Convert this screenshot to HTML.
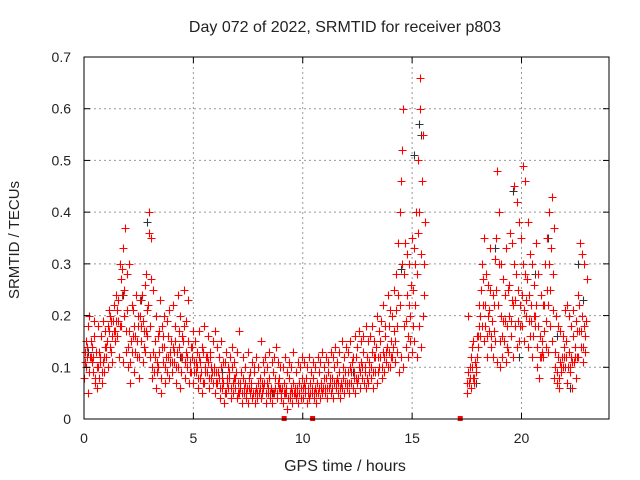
<!DOCTYPE html>
<html><head><meta charset="utf-8"><style>
body{margin:0;background:#fff}
svg{display:block;font-family:"Liberation Sans",sans-serif}
</style></head><body>
<svg id="chart" width="640" height="480" viewBox="0 0 640 480">
<rect width="640" height="480" fill="#fff"/>
<text x="345" y="32" font-size="16" text-anchor="middle" fill="#222">Day 072 of 2022, SRMTID for receiver p803</text>
<text x="345" y="471" font-size="16" text-anchor="middle" fill="#222">GPS time / hours</text>
<text transform="translate(19,240) rotate(-90)" font-size="15" text-anchor="middle" fill="#222">SRMTID / TECUs</text>
<g id="grid"></g>
<g id="dark"></g>
<g id="red"></g>
<g id="axes"></g>
</svg>
<script>
const xTicks=[0,5,10,15,20];
const yTicks=[0,0.1,0.2,0.3,0.4,0.5,0.6,0.7];
const yTickLabels=["0","0.1","0.2","0.3","0.4","0.5","0.6","0.7"];
const hours=[0,0.1,0.2,0.3,0.4,0.5,0.6,0.7,0.8,0.9,
1,1.1,1.2,1.3,1.4,1.5,1.6,1.7,1.8,1.9,
2,2.1,2.2,2.3,2.4,2.5,2.6,2.7,2.8,2.9,
3,3.1,3.2,3.3,3.4,3.5,3.6,3.7,3.8,3.9,
4,4.1,4.2,4.3,4.4,4.5,4.6,4.7,4.8,4.9,
5,5.1,5.2,5.3,5.4,5.5,5.6,5.7,5.8,5.9,
6,6.1,6.2,6.3,6.4,6.5,6.6,6.7,6.8,6.9,
7,7.1,7.2,7.3,7.4,7.5,7.6,7.7,7.8,7.9,
8,8.1,8.2,8.3,8.4,8.5,8.6,8.7,8.8,8.9,
9,9.1,9.2,9.3,9.4,9.5,9.6,9.7,9.8,9.9,
10,10.1,10.2,10.3,10.4,10.5,10.6,10.7,10.8,10.9,
11,11.1,11.2,11.3,11.4,11.5,11.6,11.7,11.8,11.9,
12,12.1,12.2,12.3,12.4,12.5,12.6,12.7,12.8,12.9,
13,13.1,13.2,13.3,13.4,13.5,13.6,13.7,13.8,13.9,
14,14.1,14.2,14.3,14.4,14.5,14.6,14.7,14.8,14.9,
15,15.1,15.2,15.3,15.4,15.5,
17.5,17.6,17.7,17.8,17.9,
18,18.1,18.2,18.3,18.4,18.5,18.6,18.7,18.8,18.9,
19,19.1,19.2,19.3,19.4,19.5,19.6,19.7,19.8,19.9,
20,20.1,20.2,20.3,20.4,20.5,20.6,20.7,20.8,20.9,
21,21.1,21.2,21.3,21.4,21.5,21.6,21.7,21.8,21.9,
22,22.1,22.2,22.3,22.4,22.5,22.6,22.7,22.8,22.9];
const srmtidA=[.15,.18,.12,.14,.19,.10,.13,.16,.11,.14,
.18,.20,.16,.22,.24,.19,.27,.33,.37,.28,
.30,.22,.18,.24,.20,.23,.19,.26,.21,.40,
.35,.25,.20,.16,.23,.18,.14,.19,.21,.15,
.22,.18,.24,.20,.16,.25,.19,.23,.14,.17,
.15,.13,.17,.14,.18,.12,.16,.13,.15,.17,
.14,.12,.15,.11,.13,.10,.12,.14,.11,.13,
.17,.09,.12,.10,.13,.09,.11,.10,.12,.10,
.15,.11,.12,.10,.13,.11,.12,.14,.11,.10,
.10,.12,.09,.11,.10,.13,.09,.11,.10,.12,
.11,.10,.12,.09,.11,.10,.12,.11,.13,.10,
.12,.11,.13,.12,.14,.11,.13,.15,.12,.14,
.13,.15,.12,.16,.14,.17,.15,.16,.18,.15,
.16,.18,.15,.20,.17,.19,.22,.18,.24,.21,
.20,.25,.28,.34,.46,.60,.34,.32,.30,.35,
.33,.40,.50,.66,.55,.38,
.20,.12,.15,.11,.16,
.22,.30,.35,.28,.26,.33,.24,.31,.48,.40,
.30,.27,.33,.25,.36,.34,.45,.42,.38,.35,
.49,.46,.38,.32,.30,.26,.34,.28,.24,.22,
.30,.35,.40,.43,.37,.20,.18,.17,.16,.21,
.22,.20,.18,.21,.19,.24,.34,.32,.30,.27];
const srmtidB=[.08,.10,.05,.12,.09,.07,.06,.08,.07,.09,
.12,.10,.14,.11,.15,.16,.12,.18,.11,.13,
.10,.07,.13,.09,.12,.08,.15,.11,.13,.16,
.12,.08,.09,.06,.10,.05,.11,.07,.09,.08,
.09,.11,.07,.10,.06,.12,.08,.10,.07,.09,
.07,.09,.06,.08,.05,.07,.09,.06,.08,.07,
.05,.07,.04,.06,.03,.05,.06,.04,.05,.06,
.04,.05,.03,.05,.04,.03,.05,.04,.03,.04,
.05,.04,.06,.03,.05,.04,.03,.05,.04,.06,
.04,.03,.05,.02,.04,.03,.05,.04,.03,.04,
.04,.05,.03,.04,.05,.04,.03,.05,.04,.05,
.05,.04,.06,.05,.04,.06,.05,.04,.06,.05,
.06,.05,.07,.06,.05,.07,.06,.08,.07,.06,
.07,.08,.06,.09,.07,.10,.08,.09,.11,.10,
.10,.12,.11,.13,.09,.12,.10,.14,.12,.15,
.13,.15,.12,.18,.14,.20,
.05,.07,.06,.08,.09,
.14,.16,.18,.15,.12,.17,.14,.12,.15,.11,
.10,.12,.15,.11,.13,.16,.12,.18,.14,.15,
.18,.15,.20,.14,.16,.12,.18,.10,.08,.12,
.12,.14,.13,.18,.15,.08,.07,.06,.09,.10,
.10,.07,.09,.06,.11,.08,.12,.14,.11,.13];
const srmtidC=[.13,.14,.20,.11,.16,.13,.18,.12,.19,.17,
.15,.21,.19,.17,.19,.23,.30,.29,.25,.21,
.17,.15,.21,.16,.18,.20,.24,.17,.28,.36,
.27,.13,.15,.11,.17,.14,.20,.12,.16,.13,
.14,.15,.13,.17,.12,.18,.13,.15,.11,.14,
.11,.10,.12,.09,.13,.10,.11,.12,.09,.10,
.09,.08,.10,.07,.11,.08,.09,.10,.08,.09,
.07,.06,.08,.07,.06,.08,.07,.09,.06,.07,
.08,.07,.09,.07,.08,.06,.09,.08,.07,.06,
.06,.07,.05,.08,.06,.07,.05,.06,.07,.08,
.07,.08,.06,.07,.08,.06,.07,.09,.07,.08,
.08,.09,.07,.08,.10,.08,.09,.07,.10,.09,
.09,.10,.11,.09,.12,.10,.11,.13,.10,.12,
.11,.13,.12,.14,.12,.15,.13,.16,.14,.18,
.15,.17,.21,.24,.40,.52,.28,.24,.22,.26,
.25,.30,.36,.60,.46,.30,
.09,.10,.14,.08,.12,
.18,.25,.27,.22,.20,.25,.19,.22,.35,.30,
.20,.19,.24,.18,.26,.23,.30,.28,.25,.22,
.30,.28,.27,.24,.22,.20,.22,.18,.16,.15,
.22,.25,.30,.33,.28,.13,.12,.11,.12,.14,
.15,.13,.12,.16,.14,.17,.22,.20,.18,.19];
const srmtidD=[.11,.12,.09,.15,.12,.08,.10,.11,.09,.12,
.14,.17,.13,.19,.17,.21,.18,.24,.20,.17,
.14,.11,.16,.13,.15,.12,.18,.14,.17,.22,
.18,.10,.12,.09,.13,.08,.16,.10,.12,.11,
.11,.13,.10,.14,.09,.15,.11,.12,.09,.12,
.09,.11,.08,.11,.07,.09,.12,.08,.10,.09,
.07,.09,.06,.08,.05,.07,.08,.06,.07,.08,
.05,.07,.05,.06,.05,.06,.06,.05,.05,.05,
.06,.05,.07,.05,.06,.05,.05,.06,.05,.08,
.05,.05,.06,.04,.05,.05,.06,.05,.05,.06,
.06,.06,.05,.05,.06,.05,.05,.06,.06,.06,
.06,.06,.08,.06,.07,.07,.07,.06,.08,.07,
.07,.07,.09,.08,.08,.08,.09,.10,.09,.08,
.09,.10,.09,.12,.09,.12,.10,.12,.13,.13,
.12,.14,.15,.18,.22,.30,.18,.19,.16,.20,
.18,.22,.28,.40,.32,.24,
.07,.08,.10,.07,.10,
.16,.20,.22,.18,.16,.21,.16,.17,.25,.22,
.15,.16,.19,.14,.20,.19,.22,.23,.19,.18,
.24,.21,.23,.19,.19,.16,.20,.14,.12,.13,
.17,.19,.22,.25,.21,.10,.09,.08,.10,.12,
.12,.10,.10,.11,.12,.12,.17,.17,.14,.16];
const darkHours=[0.2,1.8,2.6,2.9,4.4,6.3,8.6,12.3,14.5,15.1,15.3,15.4,17.9,18.8,19.6,19.9,20.6,21.2,21.6,22.2,22.6,22.8];
const darkVals=[.13,.24,.23,.38,.12,.09,.05,.09,.29,.51,.57,.55,.07,.33,.44,.12,.28,.35,.16,.06,.30,.23];
const zeroHours=[9.15,10.45,17.2];

const X0=84,X1=609,Y0=419,Y1=57,XMAX=24,YMAX=0.7;
const sx=h=>X0+(X1-X0)*h/XMAX;
const sy=v=>Y0-(Y0-Y1)*v/YMAX;
const NS="http://www.w3.org/2000/svg";
function mk(tag,attrs,parent){const e=document.createElementNS(NS,tag);for(const k in attrs)e.setAttribute(k,attrs[k]);parent.appendChild(e);return e;}
const grid=document.getElementById('grid'),axes=document.getElementById('axes');
xTicks.forEach(t=>{
  const x=sx(t);
  if(t>0){const g=mk('line',{x1:x,y1:Y0,x2:x,y2:Y1,stroke:'#999','stroke-dasharray':'2,3'},grid);
  
  }
  const a=mk('line',{x1:x,y1:Y0,x2:x,y2:Y0-6,stroke:'#000'},axes);
  const b=mk('line',{x1:x,y1:Y1,x2:x,y2:Y1+6,stroke:'#000'},axes);
  const l=mk('text',{x:x,y:443,'font-size':14,'text-anchor':'middle',fill:'#222'},axes);l.textContent=t;
  
  
});
yTicks.forEach((t,i)=>{
  const y=sy(t);
  if(t>0&&t<YMAX){const g=mk('line',{x1:X0,y1:y,x2:X1,y2:y,stroke:'#999','stroke-dasharray':'2,3'},grid);
  
  }
  const a=mk('line',{x1:X0,y1:y,x2:X0+6,y2:y,stroke:'#000'},axes);
  const b=mk('line',{x1:X1,y1:y,x2:X1-6,y2:y,stroke:'#000'},axes);
  const l=mk('text',{x:71,y:y+5,'font-size':14,'text-anchor':'end',fill:'#222'},axes);l.textContent=yTickLabels[i];
  
  
});
const frame=mk('rect',{x:X0,y:Y1,width:X1-X0,height:Y0-Y1,fill:'none',stroke:'#000'},axes);


function plus(g,h,v,col){
  const x=Math.round(sx(h))+0.5,y=Math.round(sy(v))+0.5;
  const p=mk('path',{d:`M${x-4},${y}H${x+4}M${x},${y-4}V${y+4}`,stroke:col,'stroke-width':1.1,fill:'none'},g);
  
  
}
const dark=document.getElementById('dark'),red=document.getElementById('red');
darkHours.forEach((h,i)=>plus(dark,h,darkVals[i],'#333'));
hours.forEach((h,i)=>{
  plus(red,h,srmtidB[i],'#f00');
  plus(red,h+0.025,srmtidD[i],'#f00');
  plus(red,h+0.05,srmtidC[i],'#f00');
  plus(red,h+0.075,srmtidA[i],'#f00');
});
zeroHours.forEach(h=>{
  const r=mk('rect',{x:sx(h)-2.5,y:Y0-3,width:5,height:5,fill:'#f00'},red);
  
  
});
</script>
</body></html>
